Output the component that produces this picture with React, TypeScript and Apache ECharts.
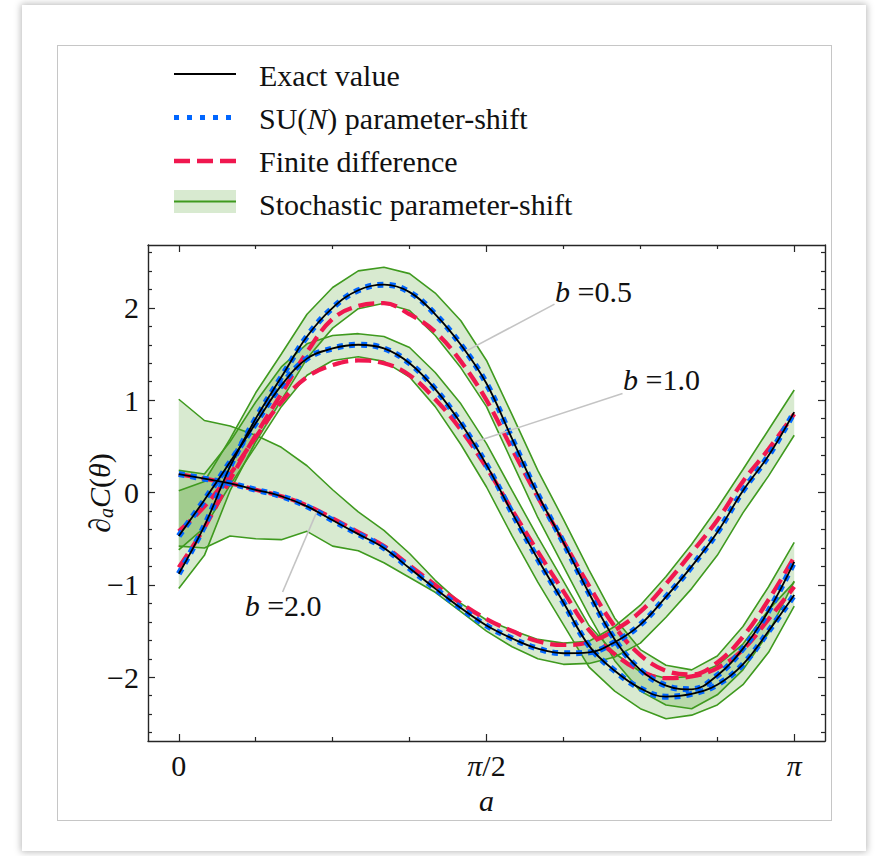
import React, { useEffect, useRef } from "react";
import * as echarts from "echarts";

// x grid: a = k*pi/24, k = 0..24
const A_VALUES: number[] = Array.from({ length: 25 }, (_, k) => (k * Math.PI) / 24);

// b = 0.5
const EXACT_05 = [-0.88, -0.36, 0.28, 0.80, 1.25, 1.69, 2.00, 2.19, 2.25, 2.17, 1.93, 1.60, 1.18, 0.58, -0.02, -0.54, -1.09, -1.59, -1.92, -2.09, -2.13, -1.98, -1.69, -1.28, -0.75];
const PS_05 = [-0.88, -0.36, 0.28, 0.80, 1.25, 1.69, 2.00, 2.19, 2.25, 2.17, 1.93, 1.60, 1.18, 0.58, -0.02, -0.54, -1.09, -1.59, -1.92, -2.09, -2.13, -1.98, -1.69, -1.28, -0.75];
const FD_05 = [-0.81, -0.38, 0.14, 0.62, 1.07, 1.52, 1.88, 2.02, 2.05, 1.93, 1.74, 1.42, 1.00, 0.47, -0.05, -0.53, -1.01, -1.45, -1.76, -1.93, -1.97, -1.84, -1.56, -1.16, -0.70];
const UP_05 = [0.02, 0.12, 0.58, 1.08, 1.50, 1.93, 2.22, 2.40, 2.44, 2.37, 2.16, 1.86, 1.43, 0.84, 0.24, -0.29, -0.84, -1.36, -1.70, -1.87, -1.92, -1.77, -1.45, -1.02, -0.54];
const LO_05 = [-1.04, -0.68, 0.02, 0.55, 1.00, 1.45, 1.78, 1.99, 2.05, 1.97, 1.70, 1.35, 0.93, 0.33, -0.27, -0.80, -1.33, -1.82, -2.15, -2.30, -2.34, -2.19, -1.92, -1.52, -0.96];

// b = 1.0
const EXACT_10 = [-0.47, -0.08, 0.33, 0.75, 1.16, 1.45, 1.56, 1.60, 1.56, 1.40, 1.12, 0.75, 0.30, -0.22, -0.72, -1.19, -1.66, -1.93, -2.12, -2.21, -2.18, -2.08, -1.86, -1.50, -1.11];
const PS_10 = [-0.47, -0.08, 0.33, 0.75, 1.16, 1.45, 1.56, 1.60, 1.56, 1.40, 1.12, 0.75, 0.30, -0.22, -0.72, -1.19, -1.66, -1.93, -2.12, -2.21, -2.18, -2.08, -1.86, -1.50, -1.11];
const FD_10 = [-0.42, -0.15, 0.20, 0.60, 0.98, 1.25, 1.38, 1.43, 1.40, 1.27, 1.01, 0.68, 0.27, -0.19, -0.64, -1.07, -1.49, -1.75, -1.93, -2.01, -1.99, -1.90, -1.70, -1.37, -1.02];
const UP_10 = [0.24, 0.20, 0.55, 0.98, 1.36, 1.61, 1.70, 1.72, 1.69, 1.57, 1.30, 0.96, 0.53, 0.02, -0.48, -0.96, -1.44, -1.74, -1.94, -2.01, -1.99, -1.87, -1.64, -1.27, -0.97];
const LO_10 = [-0.62, -0.38, 0.08, 0.50, 0.93, 1.27, 1.43, 1.47, 1.42, 1.25, 0.93, 0.52, 0.06, -0.47, -0.97, -1.43, -1.89, -2.15, -2.34, -2.45, -2.41, -2.30, -2.08, -1.73, -1.23];

// b = 2.0
const EXACT_20 = [0.20, 0.15, 0.10, 0.03, -0.04, -0.15, -0.30, -0.45, -0.60, -0.82, -1.04, -1.25, -1.44, -1.58, -1.69, -1.74, -1.73, -1.62, -1.43, -1.13, -0.80, -0.43, 0.02, 0.40, 0.87];
const PS_20 = [0.20, 0.15, 0.10, 0.03, -0.04, -0.15, -0.30, -0.45, -0.60, -0.82, -1.04, -1.25, -1.44, -1.58, -1.69, -1.74, -1.73, -1.62, -1.43, -1.13, -0.80, -0.43, 0.02, 0.40, 0.87];
const FD_20 = [0.20, 0.15, 0.10, 0.03, -0.04, -0.14, -0.28, -0.43, -0.58, -0.79, -1.00, -1.20, -1.37, -1.50, -1.61, -1.65, -1.62, -1.49, -1.29, -0.99, -0.65, -0.30, 0.12, 0.47, 0.85];
const UP_20 = [1.01, 0.78, 0.72, 0.62, 0.49, 0.29, 0.03, -0.21, -0.41, -0.66, -0.95, -1.20, -1.38, -1.49, -1.59, -1.63, -1.61, -1.45, -1.22, -0.91, -0.56, -0.17, 0.25, 0.68, 1.11];
const LO_20 = [-0.58, -0.60, -0.47, -0.50, -0.51, -0.42, -0.58, -0.63, -0.76, -0.92, -1.08, -1.29, -1.50, -1.67, -1.80, -1.86, -1.85, -1.78, -1.63, -1.35, -1.04, -0.68, -0.22, 0.18, 0.62];

// ticks
const X_MAJOR = [0, Math.PI / 2, Math.PI];
const X_MAJOR_LABELS = ["0", "{i|π}/2", "{i|π}"];
const X_MINOR = [1, 2, 3, 5, 6, 7].map((k) => (k * Math.PI) / 8);
const Y_MAJOR = [-2, -1, 0, 1, 2];
const Y_MINOR = [-2.6, -2.4, -2.2, -1.8, -1.6, -1.4, -1.2, -0.8, -0.6, -0.4, -0.2, 0.2, 0.4, 0.6, 0.8, 1.2, 1.4, 1.6, 1.8, 2.2, 2.4, 2.6];

// annotations: label value, leader start (a, v), curve point (a, v), text anchor (a, v)
const ANNOTATIONS = [
  { label: "0.5", from: [1.918, 2.04], to: [1.459, 1.523], text: [1.918, 2.18] },
  { label: "1.0", from: [2.265, 1.073], to: [1.51, 0.548], text: [2.265, 1.228] },
  { label: "2.0", from: [0.53, -1.077], to: [0.708, -0.19], text: [0.334, -1.221] },
];

const FONT = '"Liberation Serif", "Times New Roman", serif';
const BLACK = "#000000";
const BLUE = "#0066ff";
const RED = "#f0174f";
const GREEN = "#3f9a1f";
const FILL = "rgba(77,160,40,0.22)";
const AXIS = "#262626";

const pairs = (ys: number[]) => A_VALUES.map((x, i) => [x, ys[i]]);

function bandSeries(up: number[], lo: number[]) {
  return {
    type: "custom",
    silent: true,
    z: 1,
    clip: true,
    data: A_VALUES.map((x, i) => [x, lo[i], up[i]]),
    encode: { x: 0, y: [1, 2] },
    renderItem: (params: any, api: any) => {
      if (params.dataIndex !== 0) return null;
      const top = A_VALUES.map((x, i) => api.coord([x, up[i]]));
      const bottom = A_VALUES.map((x, i) => api.coord([x, lo[i]])).reverse();
      return {
        type: "polygon",
        shape: { points: top.concat(bottom) },
        style: { fill: FILL, stroke: "none" },
      };
    },
  };
}

function buildOption() {
  const XMIN = -0.05 * Math.PI;
  const XMAX = 1.05 * Math.PI;
  const YMIN = -2.69;
  const YMAX = 2.68;

  const bands = [
    { up: UP_05, lo: LO_05 },
    { up: UP_10, lo: LO_10 },
    { up: UP_20, lo: LO_20 },
  ];

  const series: any[] = [];
  bands.forEach((b) => series.push(bandSeries(b.up, b.lo)));
  bands.forEach((b) => {
    [b.up, b.lo].forEach((edge) => {
      series.push({
        type: "line",
        data: pairs(edge),
        symbol: "none",
        silent: true,
        lineStyle: { color: GREEN, width: 1.6 },
        z: 2,
      });
    });
  });

  // annotation leader lines + labels
  series.push({
    type: "line",
    data: [],
    symbol: "none",
    silent: true,
    z: 2,
    markLine: {
      silent: true,
      symbol: "none",
      animation: false,
      label: { show: false },
      lineStyle: { color: "#c4c4c4", width: 1.6, type: "solid" },
      data: ANNOTATIONS.map((an) => [{ coord: an.from }, { coord: an.to }]),
    },
    markPoint: {
      silent: true,
      animation: false,
      symbol: "rect",
      symbolSize: 1,
      itemStyle: { color: "rgba(0,0,0,0)" },
      data: ANNOTATIONS.map((an) => ({
        coord: an.text,
        label: {
          show: true,
          position: "right",
          distance: 0,
          formatter: "{i|b}{r|\u00a0=" + an.label + "}",
          rich: {
            i: { fontFamily: FONT, fontStyle: "italic", fontSize: 30, color: "#111" },
            r: { fontFamily: FONT, fontSize: 30, color: "#111" },
          },
        },
      })),
    },
  });

  [FD_05, FD_10, FD_20].forEach((d) => {
    series.push({
      type: "line",
      data: pairs(d),
      symbol: "none",
      smooth: 0.4,
      silent: true,
      lineStyle: { color: RED, width: 4.3, type: [16, 7], cap: "butt" },
      z: 3,
    });
  });
  [PS_05, PS_10, PS_20].forEach((d) => {
    series.push({
      type: "line",
      data: pairs(d),
      symbol: "none",
      smooth: 0.4,
      silent: true,
      lineStyle: { color: BLUE, width: 6, type: [6, 6], cap: "butt" },
      z: 4,
    });
  });
  [EXACT_05, EXACT_10, EXACT_20].forEach((d) => {
    series.push({
      type: "line",
      data: pairs(d),
      symbol: "none",
      smooth: 0.4,
      silent: true,
      lineStyle: { color: BLACK, width: 1.8 },
      z: 5,
    });
  });

  const tickStyle = { color: AXIS, width: 1.2 };
  const base = { type: "value", min: XMIN, max: XMAX, splitLine: { show: false } };
  const ybase = { type: "value", min: YMIN, max: YMAX, splitLine: { show: false } };

  const xAxis = [
    {
      ...base,
      position: "bottom",
      axisLine: { show: true, onZero: false, lineStyle: { color: AXIS, width: 1.4 } },
      axisTick: { show: true, inside: true, length: 7, customValues: X_MAJOR, lineStyle: tickStyle },
      axisLabel: {
        show: true,
        customValues: X_MAJOR,
        margin: 9,
        fontFamily: FONT,
        fontSize: 30,
        color: "#111",
        formatter: (v: number) => {
          let best = 0;
          X_MAJOR.forEach((m, i) => {
            if (Math.abs(m - v) < Math.abs(X_MAJOR[best] - v)) best = i;
          });
          return X_MAJOR_LABELS[best];
        },
        rich: { i: { fontFamily: FONT, fontStyle: "italic", fontSize: 30, color: "#111" } },
      },
      name: "a",
      nameLocation: "middle",
      nameGap: 44,
      nameMoveOverlap: false,
      nameTextStyle: { fontFamily: FONT, fontStyle: "italic", fontSize: 30, color: "#111" },
    },
    {
      ...base,
      position: "bottom",
      axisLine: { show: false, onZero: false },
      axisTick: { show: true, inside: true, length: 4, customValues: X_MINOR, lineStyle: tickStyle },
      axisLabel: { show: false },
    },
    {
      ...base,
      position: "top",
      axisLine: { show: true, onZero: false, lineStyle: { color: AXIS, width: 1.4 } },
      axisTick: { show: true, inside: true, length: 7, customValues: X_MAJOR, lineStyle: tickStyle },
      axisLabel: { show: false },
    },
    {
      ...base,
      position: "top",
      axisLine: { show: false, onZero: false },
      axisTick: { show: true, inside: true, length: 4, customValues: X_MINOR, lineStyle: tickStyle },
      axisLabel: { show: false },
    },
  ];

  const yAxis = [
    {
      ...ybase,
      position: "left",
      axisLine: { show: true, onZero: false, lineStyle: { color: AXIS, width: 1.4 } },
      axisTick: { show: true, inside: true, length: 7, customValues: Y_MAJOR, lineStyle: tickStyle },
      axisLabel: {
        show: true,
        customValues: Y_MAJOR,
        margin: 9,
        fontFamily: FONT,
        fontSize: 30,
        color: "#111",
        formatter: (v: number) => (v < 0 ? "\u2212" + Math.abs(Math.round(v)) : String(Math.round(v))),
      },
      name: "{r|∂}{s|a}{i|C}{r|(}{i|θ}{r|)}",
      nameLocation: "middle",
      nameGap: 32,
      nameMoveOverlap: false,
      nameRotate: 90,
      nameTextStyle: {
        rich: {
          r: { fontFamily: FONT, fontSize: 30, color: "#111", lineHeight: 34 },
          i: { fontFamily: FONT, fontStyle: "italic", fontSize: 30, color: "#111", lineHeight: 34 },
          s: { fontFamily: FONT, fontStyle: "italic", fontSize: 20, color: "#111", lineHeight: 22, verticalAlign: "bottom" },
        },
      },
    },
    {
      ...ybase,
      position: "left",
      axisLine: { show: false, onZero: false },
      axisTick: { show: true, inside: true, length: 4, customValues: Y_MINOR, lineStyle: tickStyle },
      axisLabel: { show: false },
    },
    {
      ...ybase,
      position: "right",
      axisLine: { show: true, onZero: false, lineStyle: { color: AXIS, width: 1.4 } },
      axisTick: { show: true, inside: true, length: 7, customValues: Y_MAJOR, lineStyle: tickStyle },
      axisLabel: { show: false },
    },
    {
      ...ybase,
      position: "right",
      axisLine: { show: false, onZero: false },
      axisTick: { show: true, inside: true, length: 4, customValues: Y_MINOR, lineStyle: tickStyle },
      axisLabel: { show: false },
    },
  ];

  const legendText = (text: string, y: number, rich?: any) => ({
    type: "text",
    silent: true,
    style: {
      text,
      x: 259,
      y,
      fontFamily: FONT,
      fontSize: 30,
      fill: "#111",
      align: "left",
      verticalAlign: "middle",
      rich,
    },
  });

  const graphic = [
    { type: "line", silent: true, shape: { x1: 174, y1: 74, x2: 236, y2: 74 }, style: { stroke: BLACK, lineWidth: 2 } },
    { type: "line", silent: true, shape: { x1: 174, y1: 117.5, x2: 236, y2: 117.5 }, style: { stroke: BLUE, lineWidth: 5, lineDash: [5, 8], lineCap: "butt" } },
    { type: "line", silent: true, shape: { x1: 174, y1: 161, x2: 236, y2: 161 }, style: { stroke: RED, lineWidth: 4.3, lineDash: [16, 7], lineCap: "butt" } },
    { type: "rect", silent: true, shape: { x: 174, y: 190, width: 62, height: 23 }, style: { fill: FILL } },
    { type: "line", silent: true, shape: { x1: 174, y1: 201.5, x2: 236, y2: 201.5 }, style: { stroke: GREEN, lineWidth: 2 } },
    legendText("Exact value", 75),
    legendText("{r|SU(}{i|N}{r|) parameter-shift}", 118, {
      r: { fontFamily: FONT, fontSize: 30, fill: "#111" },
      i: { fontFamily: FONT, fontStyle: "italic", fontSize: 30, fill: "#111" },
    }),
    legendText("Finite difference", 161),
    legendText("Stochastic parameter-shift", 204),
  ];

  return {
    animation: false,
    backgroundColor: "transparent",
    grid: { left: 148, top: 245, width: 677, height: 496, containLabel: false },
    xAxis,
    yAxis,
    series,
    graphic,
  };
}

export default function App() {
  const ref = useRef<HTMLDivElement>(null);
  useEffect(() => {
    if (!ref.current) return;
    const chart = echarts.init(ref.current, null, { renderer: "svg" });
    chart.setOption(buildOption() as any);
    return () => chart.dispose();
  }, []);
  return (
    <div style={{ position: "fixed", left: 0, top: 0, width: 879, height: 856, background: "#ffffff", overflow: "hidden" }}>
      <div
        style={{
          position: "absolute",
          left: 22,
          top: 5,
          width: 844,
          height: 846,
          background: "#ffffff",
          boxShadow: "0 0 7px 1px rgba(0,0,0,0.28)",
        }}
      />
      <div
        style={{
          position: "absolute",
          left: 57,
          top: 45,
          width: 775,
          height: 776,
          boxSizing: "border-box",
          border: "1px solid #c6c6c6",
        }}
      />
      <div ref={ref} style={{ position: "absolute", left: 0, top: 0, width: 879, height: 856 }} />
    </div>
  );
}
